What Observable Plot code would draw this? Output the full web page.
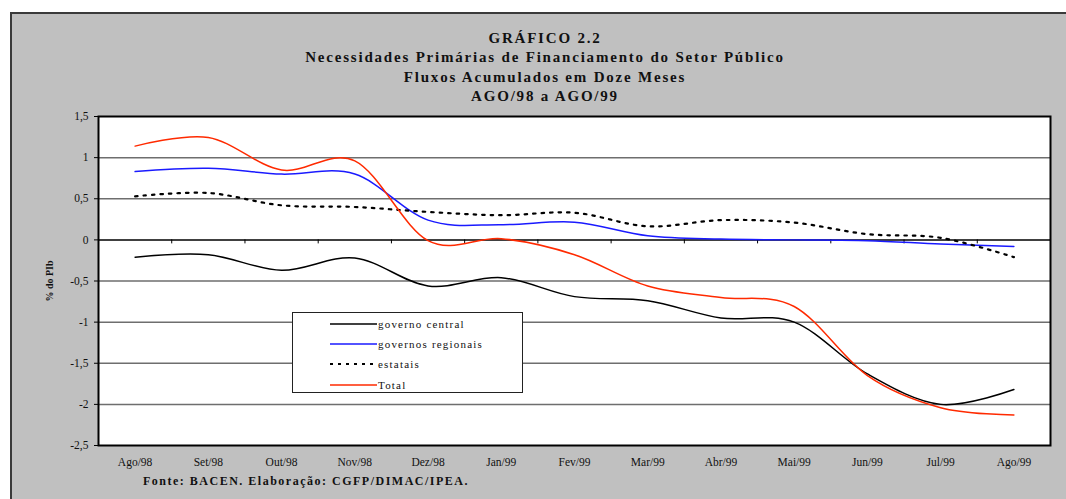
<!DOCTYPE html>
<html>
<head>
<meta charset="utf-8">
<script src="https://cdn.jsdelivr.net/npm/d3@7"></script>
<script src="https://cdn.jsdelivr.net/npm/@observablehq/plot@0.6"></script>
<style>
  html, body { margin: 0; padding: 0; background: #fff; }
  #wrap { position: relative; width: 1066px; height: 499px; overflow: hidden; font-family: "Liberation Serif", "DejaVu Serif", serif; }
  #frame { position: absolute; left: 10px; top: 12px; width: 1060px; height: 490px; background: #c0c0c0; border-top: 2px solid #3a3a3a; border-left: 2px solid #3a3a3a; }
  #title { position: absolute; left: 10px; width: 1070px; top: 29px; text-align: center; font-weight: bold; font-size: 15px; line-height: 19.3px; letter-spacing: 1.8px; color: #111; }
  #chart { position: absolute; left: 0; top: 100px; }
  #ylab { position: absolute; left: 49px; top: 281px; transform: translate(-50%, -50%) rotate(-90deg); font-weight: bold; font-size: 10px; white-space: nowrap; color: #111; }
  #foot { position: absolute; left: 143px; top: 474px; font-weight: bold; font-size: 12px; letter-spacing: 1.5px; color: #111; white-space: nowrap; }
  #legend { position: absolute; left: 292px; top: 312px; width: 231px; height: 81px; background: #fff; border: 1px solid #222; box-sizing: border-box; }
  .row { position: absolute; left: 37px; height: 20px; display: flex; align-items: center; font-size: 11px; letter-spacing: 1.2px; color: #111; }
  .row svg { margin-right: 1px; }
</style>
</head>
<body>
<div id="wrap">
  <div id="frame"></div>
  <div id="title"></div>
  <div id="chart"></div>
  <div id="ylab">% do PIb</div>
  <div id="legend"></div>
  <div id="foot">Fonte: BACEN. Elaboração: CGFP/DIMAC/IPEA.</div>
</div>
<script>
// ---- data ----
const titleLines = ["GRÁFICO 2.2", "Necessidades Primárias de Financiamento do Setor Público", "Fluxos Acumulados em Doze Meses", "AGO/98 a AGO/99"];
const months = ["Ago/98", "Set/98", "Out/98", "Nov/98", "Dez/98", "Jan/99", "Fev/99", "Mar/99", "Abr/99", "Mai/99", "Jun/99", "Jul/99", "Ago/99"];
const governoCentral = [-0.21, -0.18, -0.37, -0.22, -0.56, -0.46, -0.69, -0.74, -0.95, -1.0, -1.63, -2.00, -1.82];
const governosRegionais = [0.83, 0.87, 0.80, 0.80, 0.24, 0.185, 0.215, 0.05, 0.01, 0.0, -0.01, -0.05, -0.08];
const estatais = [0.53, 0.57, 0.42, 0.40, 0.34, 0.30, 0.33, 0.165, 0.24, 0.21, 0.07, 0.025, -0.21];
const total = [1.14, 1.245, 0.85, 0.96, -0.01, 0.015, -0.18, -0.56, -0.70, -0.81, -1.65, -2.04, -2.13];
const seriesNames = ["governo central", "governos regionais", "estatais", "Total"];
const yTicks = [-2.5, -2, -1.5, -1, -0.5, 0, 0.5, 1, 1.5];

// ---- styles ----
const styles = {
  "governo central": {stroke: "#000000", dash: null, width: 1.5},
  "governos regionais": {stroke: "#1a1aff", dash: null, width: 1.5},
  "estatais": {stroke: "#000000", dash: "2.5,6", width: 2.2},
  "Total": {stroke: "#ff2a00", dash: null, width: 1.5}
};
const legendDash = {"estatais": "3,5"};

document.getElementById("title").innerHTML = titleLines.map(t => `<div>${t}</div>`).join("");

const seriesValues = [governoCentral, governosRegionais, estatais, total];
const idx = months.map((m, i) => i);
const boundaries = months.slice(1).map((m, i) => i + 0.5);
const fmt = d => String(d).replace(".", ",");

const lineMarks = seriesNames.map((name, s) =>
  Plot.line(idx, {
    x: i => i,
    y: i => seriesValues[s][i],
    curve: "cardinal",
    tension: 0,
    stroke: styles[name].stroke,
    strokeWidth: styles[name].width,
    strokeDasharray: styles[name].dash
  })
);

const chart = Plot.plot({
  width: 1066,
  height: 380,
  marginLeft: 98,
  marginRight: 16,
  marginTop: 16,
  marginBottom: 35,
  style: {fontFamily: "'Liberation Serif', 'DejaVu Serif', serif", fontSize: "11px", background: "transparent", overflow: "visible", color: "#111"},
  x: {domain: [-0.5, 12.5]},
  y: {domain: [-2.5, 1.5]},
  marks: [
    Plot.frame({fill: "#ffffff", stroke: null}),
    Plot.ruleY(yTicks.filter(d => d !== 0 && d !== 1.5 && d !== -2.5), {stroke: "#6e6e6e", strokeWidth: 1.5}),
    Plot.ruleY([0], {stroke: "#000", strokeWidth: 1.5}),
    Plot.ruleX(boundaries, {y1: 0, y2: 0, insetBottom: -4, stroke: "#000", strokeWidth: 1}),
    ...lineMarks,
    Plot.frame({stroke: "#000", strokeWidth: 2}),
    Plot.axisY({ticks: yTicks, tickFormat: fmt, tickSize: 4, tickPadding: 6, stroke: "#000", label: null, fontSize: 11.5}),
    Plot.axisX({ticks: idx, tickFormat: i => months[i], tickSize: 0, tickPadding: 12, label: null, fontSize: 11.5, style: {letterSpacing: "1px"}})
  ]
});
document.getElementById("chart").appendChild(chart);

// legend box (an in-plot box in the original)
const legend = document.getElementById("legend");
seriesNames.forEach((name, k) => {
  const st = styles[name];
  const dash = legendDash[name] || st.dash;
  const row = document.createElement("div");
  row.className = "row";
  row.style.top = (0.5 + k * 20.4) + "px";
  row.innerHTML = `<svg width="47" height="6"><line x1="0" x2="47" y1="3" y2="3" stroke="${st.stroke}" stroke-width="${st.width}" ${dash ? `stroke-dasharray="${dash}"` : ""}/></svg><span>${name}</span>`;
  legend.appendChild(row);
});
</script>
</body>
</html>
